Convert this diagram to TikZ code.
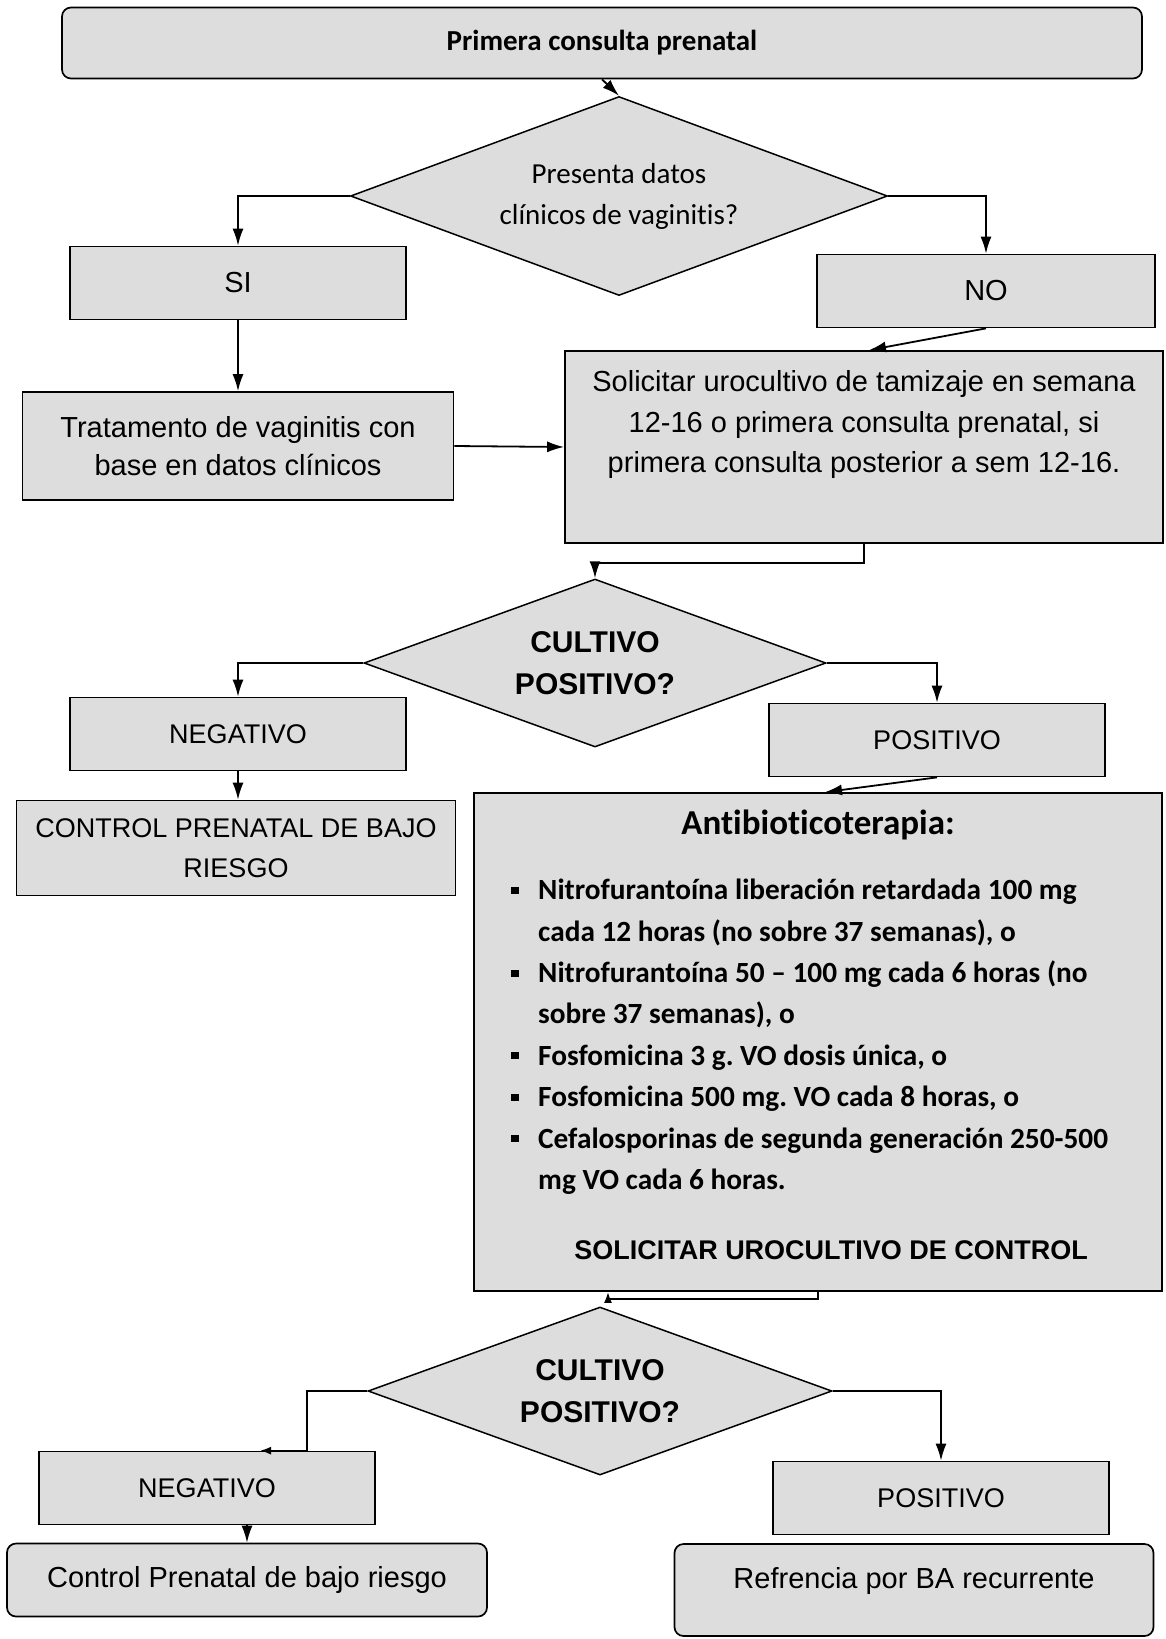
\documentclass[tikz,border=0pt]{standalone}
\usepackage{fontspec}
\setmainfont{Liberation Sans}
\newfontfamily\calibri[Ligatures=NoCommon]{Carlito}
\usepackage{tikz}
\usetikzlibrary{shapes.geometric}
\usetikzlibrary{arrows.meta}
\definecolor{boxgray}{RGB}{221,221,221}
\newcommand\drugmark{\makebox[27pt][l]{\rule[6pt]{8pt}{7pt}}}
\newcommand\drugindent{\hspace*{27pt}}
\frenchspacing

\begin{document}
\begin{tikzpicture}[x=1pt, y=-1pt,
        box/.style={draw, fill=boxgray, line width=1.7pt, inner sep=0pt, align=center, font=\fontsize{29}{40}\selectfont},
        capbox/.style={box, minimum width=336pt, minimum height=73pt, font=\fontsize{27}{40}\selectfont},
        rbox/.style={box, rounded corners=9pt},
        choice/.style={diamond, aspect=2.7, draw, fill=boxgray, line width=1.5pt, inner sep=0pt, align=center},
        flow/.style={-{Latex[length=17pt, width=11pt]}, line width=1.8pt},
        smallflow/.style={-{Latex[length=11pt, width=8pt]}, line width=1.8pt}]
            \useasboundingbox (0,0) rectangle (1165,1639);

            % inicio
            \node[rbox, minimum width=1080pt, minimum height=71pt, font=\calibri\bfseries\fontsize{29}{35}\selectfont] (inicio) at (602,43) {Primera consulta prenatal};

            % vaginitis
            \node[choice, minimum width=537pt, minimum height=199pt, font=\calibri\fontsize{29}{41}\selectfont] (vag) at (619,196) {Presenta datos\\clínicos de vaginitis?};
            \node[capbox, font=\fontsize{29}{40}\selectfont] (si) at (238,283) {SI};
            \node[capbox, minimum width=338pt, font=\fontsize{29}{40}\selectfont] (no) at (986,291) {NO};
            \node[box, minimum width=431pt, minimum height=108pt, font=\fontsize{29}{38.5}\selectfont] (trat) at (238,446) {Tratamento de vaginitis con\\base en datos clínicos};
            \node[box, minimum width=598pt, minimum height=192pt, font=\fontsize{29}{40.5}\selectfont] (urocult) at (864,447) {Solicitar urocultivo de tamizaje en semana\\12-16 o primera consulta prenatal, si\\primera consulta posterior a sem 12-16.\\[10pt]~};
            \draw[flow] (inicio.south) -- (vag.north);
            \draw[flow] (vag.west) -| (si.north);
            \draw[flow] (vag.east) -| (no.north);
            \draw[flow] (si.south) -- (trat.north);
            \draw[flow] (no.south) -- ([xshift=5pt]urocult.north);
            \draw[flow] (trat.east) -- (urocult.west);

            % primer cultivo
            \node[choice, minimum width=462pt, minimum height=168pt, font=\bfseries\fontsize{30}{42}\selectfont] (cult1) at (595,663) {CULTIVO\\POSITIVO?};
            \node[capbox] (neg1) at (238,734) {NEGATIVO};
            \node[capbox] (pos1) at (937,740) {POSITIVO};
            \node[box, minimum width=439pt, minimum height=95pt, font=\fontsize{27}{40}\selectfont] (ctrl1) at (236,848) {CONTROL PRENATAL DE BAJO\\RIESGO};
            \draw[flow] (urocult.south) -- ++(0,19) -| (cult1.north);
            \draw[flow] (cult1.west) -| (neg1.north);
            \draw[flow] (cult1.east) -| (pos1.north);
            \draw[flow] (neg1.south) -- (neg1.south |- ctrl1.north);

            % antibioticos
            \node[box, minimum width=688pt, minimum height=498pt] (anti) at (818,1042) {};
            \node[font=\calibri\bfseries\fontsize{35}{40}\selectfont] (antitit) at (818,825) {Antibioticoterapia:};
            \node[anchor=north west, align=left, inner sep=0pt, font=\calibri\bfseries\fontsize{29.3}{41.4}\selectfont] (drugs) at (511,879) {\drugmark Nitrofurantoína liberación retardada 100 mg\\
                \drugindent cada 12 horas (no sobre 37 semanas), o\\
                \drugmark Nitrofurantoína 50 – 100 mg cada 6 horas (no\\
                \drugindent sobre 37 semanas), o\\
                \drugmark Fosfomicina 3 g. VO dosis única, o\\
                \drugmark Fosfomicina 500 mg. VO cada 8 horas, o\\
                \drugmark Cefalosporinas de segunda generación 250-500\\
                \drugindent mg VO cada 6 horas.};
            \node[font=\bfseries\fontsize{27}{35}\selectfont] (ctrlsol) at (831,1250) {SOLICITAR UROCULTIVO DE CONTROL};
            \draw[flow] (pos1.south) -- ([xshift=7pt]anti.north);
            \draw[smallflow] (anti.south) -- ++(0,7) -| ([xshift=-210pt]anti.south);

            % segundo cultivo
            \node[choice, minimum width=464pt, minimum height=168pt, font=\bfseries\fontsize{30}{42}\selectfont] (cult2) at (600,1391) {CULTIVO\\POSITIVO?};
            \node[capbox] (neg2) at (207,1488) {NEGATIVO};
            \node[capbox] (pos2) at (941,1498) {POSITIVO};
            \node[rbox, minimum width=480pt, minimum height=73pt] (ctrl2) at (247,1580) {Control Prenatal de bajo riesgo};
            \node[rbox, minimum width=479pt, minimum height=92pt, text height=21pt, text depth=25pt] (refer) at (914,1590) {Refrencia por BA recurrente};
            \draw[smallflow] (cult2.west) -| ([xshift=100pt]neg2.north) -- ([xshift=53pt]neg2.north);
            \draw[flow] (cult2.east) -| (pos2.north);
            \draw[flow] (ctrl2.north |- neg2.south) -- (ctrl2.north);
        \end{tikzpicture}
\end{document}
